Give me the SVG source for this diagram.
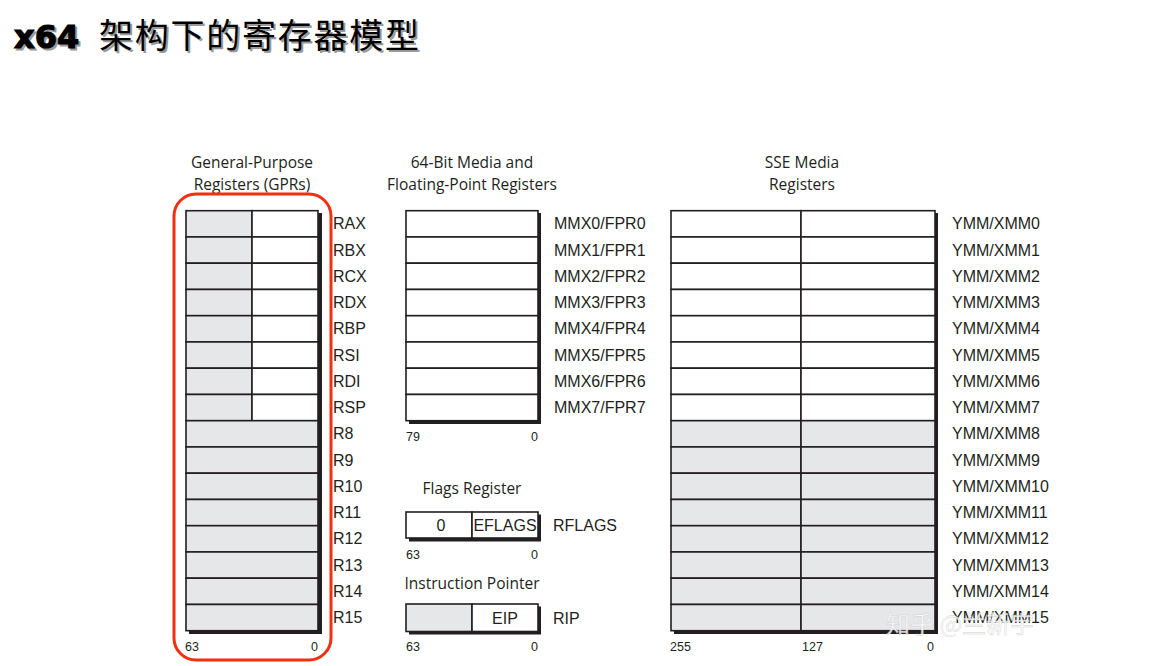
<svg xmlns="http://www.w3.org/2000/svg" width="1157" height="666" viewBox="0 0 1157 666">
<style>
.t{font-family:"Liberation Sans","Open Sans",sans-serif;font-size:16px;fill:#231f20}
.h{font-family:"Open Sans","Liberation Sans",sans-serif;font-size:15.5px;fill:#231f20;text-anchor:middle}
.n{font-family:"Liberation Sans",sans-serif;font-size:12.5px;fill:#231f20}
.cell{stroke:#231f20;stroke-width:1.6}
.w{fill:#ffffff}
.g{fill:#e6e7e8}
.sh{fill:#231f20}
</style>
<rect width="1157" height="666" fill="#ffffff"/>
<g id="title">
<text x="16" y="50" font-family="DejaVu Sans,sans-serif" font-weight="bold" font-size="32" fill="#999" stroke="#999" stroke-width="1.2">x64</text>
<text x="14" y="48" font-family="DejaVu Sans,sans-serif" font-weight="bold" font-size="32" fill="#000" stroke="#000" stroke-width="1.2">x64</text>
<text x="101" y="50" font-family="Noto Sans CJK SC,sans-serif" font-size="34" fill="#999" textLength="320">架构下的寄存器模型</text>
<text x="99" y="48" font-family="Noto Sans CJK SC,sans-serif" font-size="34" fill="#000" textLength="320">架构下的寄存器模型</text>
</g>

<g id="gpr">
<text class="h" x="252" y="168">General-Purpose</text>
<text class="h" x="252" y="190">Registers (GPRs)</text>
<rect class="sh" x="189" y="213" width="133" height="421"/>
<g class="cell">
<rect class="g" x="186" y="210.7" width="66" height="26.25"/><rect class="w" x="252" y="210.7" width="66" height="26.25"/>
<rect class="g" x="186" y="236.95" width="66" height="26.25"/><rect class="w" x="252" y="236.95" width="66" height="26.25"/>
<rect class="g" x="186" y="263.2" width="66" height="26.25"/><rect class="w" x="252" y="263.2" width="66" height="26.25"/>
<rect class="g" x="186" y="289.45" width="66" height="26.25"/><rect class="w" x="252" y="289.45" width="66" height="26.25"/>
<rect class="g" x="186" y="315.7" width="66" height="26.25"/><rect class="w" x="252" y="315.7" width="66" height="26.25"/>
<rect class="g" x="186" y="341.95" width="66" height="26.25"/><rect class="w" x="252" y="341.95" width="66" height="26.25"/>
<rect class="g" x="186" y="368.2" width="66" height="26.25"/><rect class="w" x="252" y="368.2" width="66" height="26.25"/>
<rect class="g" x="186" y="394.45" width="66" height="26.25"/><rect class="w" x="252" y="394.45" width="66" height="26.25"/>
<rect class="g" x="186" y="420.7" width="132" height="26.25"/>
<rect class="g" x="186" y="446.95" width="132" height="26.25"/>
<rect class="g" x="186" y="473.2" width="132" height="26.25"/>
<rect class="g" x="186" y="499.45" width="132" height="26.25"/>
<rect class="g" x="186" y="525.7" width="132" height="26.25"/>
<rect class="g" x="186" y="551.95" width="132" height="26.25"/>
<rect class="g" x="186" y="578.2" width="132" height="26.25"/>
<rect class="g" x="186" y="604.45" width="132" height="26.25"/>
</g>
<text class="t" x="333" y="229">RAX</text>
<text class="t" x="333" y="255.5">RBX</text>
<text class="t" x="333" y="281.5">RCX</text>
<text class="t" x="333" y="308">RDX</text>
<text class="t" x="333" y="334">RBP</text>
<text class="t" x="333" y="360.5">RSI</text>
<text class="t" x="333" y="386.5">RDI</text>
<text class="t" x="333" y="413">RSP</text>
<text class="t" x="333" y="439">R8</text>
<text class="t" x="333" y="465.5">R9</text>
<text class="t" x="333" y="491.5">R10</text>
<text class="t" x="333" y="518">R11</text>
<text class="t" x="333" y="544">R12</text>
<text class="t" x="333" y="570.5">R13</text>
<text class="t" x="333" y="596.5">R14</text>
<text class="t" x="333" y="623">R15</text>
<text class="n" x="185" y="651">63</text>
<text class="n" x="318" y="651" text-anchor="end">0</text>
<rect x="174" y="194" width="157" height="466" rx="22" ry="22" fill="none" stroke="#f2300f" stroke-width="3"/>
</g>

<g id="mmx">
<text class="h" x="472" y="168">64-Bit Media and</text>
<text class="h" x="472" y="190">Floating-Point Registers</text>
<rect class="sh" x="409" y="213" width="132" height="211"/>
<g class="cell w">
<rect x="406" y="210.7" width="132" height="26.25"/>
<rect x="406" y="236.95" width="132" height="26.25"/>
<rect x="406" y="263.2" width="132" height="26.25"/>
<rect x="406" y="289.45" width="132" height="26.25"/>
<rect x="406" y="315.7" width="132" height="26.25"/>
<rect x="406" y="341.95" width="132" height="26.25"/>
<rect x="406" y="368.2" width="132" height="26.25"/>
<rect x="406" y="394.45" width="132" height="26.25"/>
</g>
<text class="t" x="554" y="229">MMX0/FPR0</text>
<text class="t" x="554" y="255.5">MMX1/FPR1</text>
<text class="t" x="554" y="281.5">MMX2/FPR2</text>
<text class="t" x="554" y="308">MMX3/FPR3</text>
<text class="t" x="554" y="334">MMX4/FPR4</text>
<text class="t" x="554" y="360.5">MMX5/FPR5</text>
<text class="t" x="554" y="386.5">MMX6/FPR6</text>
<text class="t" x="554" y="413">MMX7/FPR7</text>
<text class="n" x="406" y="441">79</text>
<text class="n" x="538" y="441" text-anchor="end">0</text>
</g>

<g id="flags">
<text class="h" x="472" y="494">Flags Register</text>
<rect class="sh" x="409" y="514.5" width="132" height="27"/>
<g class="cell w">
<rect x="406" y="512" width="66" height="26"/>
<rect x="472" y="512" width="66" height="26"/>
</g>
<text class="t" x="441" y="531" text-anchor="middle">0</text>
<text class="t" x="505" y="531" text-anchor="middle">EFLAGS</text>
<text class="t" x="553" y="531">RFLAGS</text>
<text class="n" x="406" y="559">63</text>
<text class="n" x="538" y="559" text-anchor="end">0</text>
</g>

<g id="rip">
<text class="h" x="472" y="589">Instruction Pointer</text>
<rect class="sh" x="409" y="606.5" width="132" height="28"/>
<g class="cell">
<rect class="g" x="406" y="604" width="66" height="27.5"/>
<rect class="w" x="472" y="604" width="66" height="27.5"/>
</g>
<text class="t" x="505" y="624" text-anchor="middle">EIP</text>
<text class="t" x="553" y="624">RIP</text>
<text class="n" x="406" y="651">63</text>
<text class="n" x="538" y="651" text-anchor="end">0</text>
</g>

<g id="sse">
<text class="h" x="802" y="168">SSE Media</text>
<text class="h" x="802" y="190">Registers</text>
<rect class="sh" x="674" y="213" width="264" height="421"/>
<g class="cell">
<rect class="w" x="671" y="210.7" width="130" height="26.25"/><rect class="w" x="801" y="210.7" width="134" height="26.25"/>
<rect class="w" x="671" y="236.95" width="130" height="26.25"/><rect class="w" x="801" y="236.95" width="134" height="26.25"/>
<rect class="w" x="671" y="263.2" width="130" height="26.25"/><rect class="w" x="801" y="263.2" width="134" height="26.25"/>
<rect class="w" x="671" y="289.45" width="130" height="26.25"/><rect class="w" x="801" y="289.45" width="134" height="26.25"/>
<rect class="w" x="671" y="315.7" width="130" height="26.25"/><rect class="w" x="801" y="315.7" width="134" height="26.25"/>
<rect class="w" x="671" y="341.95" width="130" height="26.25"/><rect class="w" x="801" y="341.95" width="134" height="26.25"/>
<rect class="w" x="671" y="368.2" width="130" height="26.25"/><rect class="w" x="801" y="368.2" width="134" height="26.25"/>
<rect class="w" x="671" y="394.45" width="130" height="26.25"/><rect class="w" x="801" y="394.45" width="134" height="26.25"/>
<rect class="g" x="671" y="420.7" width="130" height="26.25"/><rect class="g" x="801" y="420.7" width="134" height="26.25"/>
<rect class="g" x="671" y="446.95" width="130" height="26.25"/><rect class="g" x="801" y="446.95" width="134" height="26.25"/>
<rect class="g" x="671" y="473.2" width="130" height="26.25"/><rect class="g" x="801" y="473.2" width="134" height="26.25"/>
<rect class="g" x="671" y="499.45" width="130" height="26.25"/><rect class="g" x="801" y="499.45" width="134" height="26.25"/>
<rect class="g" x="671" y="525.7" width="130" height="26.25"/><rect class="g" x="801" y="525.7" width="134" height="26.25"/>
<rect class="g" x="671" y="551.95" width="130" height="26.25"/><rect class="g" x="801" y="551.95" width="134" height="26.25"/>
<rect class="g" x="671" y="578.2" width="130" height="26.25"/><rect class="g" x="801" y="578.2" width="134" height="26.25"/>
<rect class="g" x="671" y="604.45" width="130" height="26.25"/><rect class="g" x="801" y="604.45" width="134" height="26.25"/>
</g>
<text class="t" x="952" y="229">YMM/XMM0</text>
<text class="t" x="952" y="255.5">YMM/XMM1</text>
<text class="t" x="952" y="281.5">YMM/XMM2</text>
<text class="t" x="952" y="308">YMM/XMM3</text>
<text class="t" x="952" y="334">YMM/XMM4</text>
<text class="t" x="952" y="360.5">YMM/XMM5</text>
<text class="t" x="952" y="386.5">YMM/XMM6</text>
<text class="t" x="952" y="413">YMM/XMM7</text>
<text class="t" x="952" y="439">YMM/XMM8</text>
<text class="t" x="952" y="465.5">YMM/XMM9</text>
<text class="t" x="952" y="491.5">YMM/XMM10</text>
<text class="t" x="952" y="518">YMM/XMM11</text>
<text class="t" x="952" y="544">YMM/XMM12</text>
<text class="t" x="952" y="570.5">YMM/XMM13</text>
<text class="t" x="952" y="596.5">YMM/XMM14</text>
<text class="t" x="952" y="623">YMM/XMM15</text>
<text class="n" x="670" y="651">255</text>
<text class="n" x="802" y="651">127</text>
<text class="n" x="934" y="651" text-anchor="end">0</text>
</g>

<g id="watermark" opacity="0.85">
<text x="886" y="633" font-family="Noto Sans CJK SC,sans-serif" font-size="24" fill="#ffffff" stroke="#c8c8c8" stroke-width="0.4">知乎 @兰新宇</text>
</g>
</svg>
